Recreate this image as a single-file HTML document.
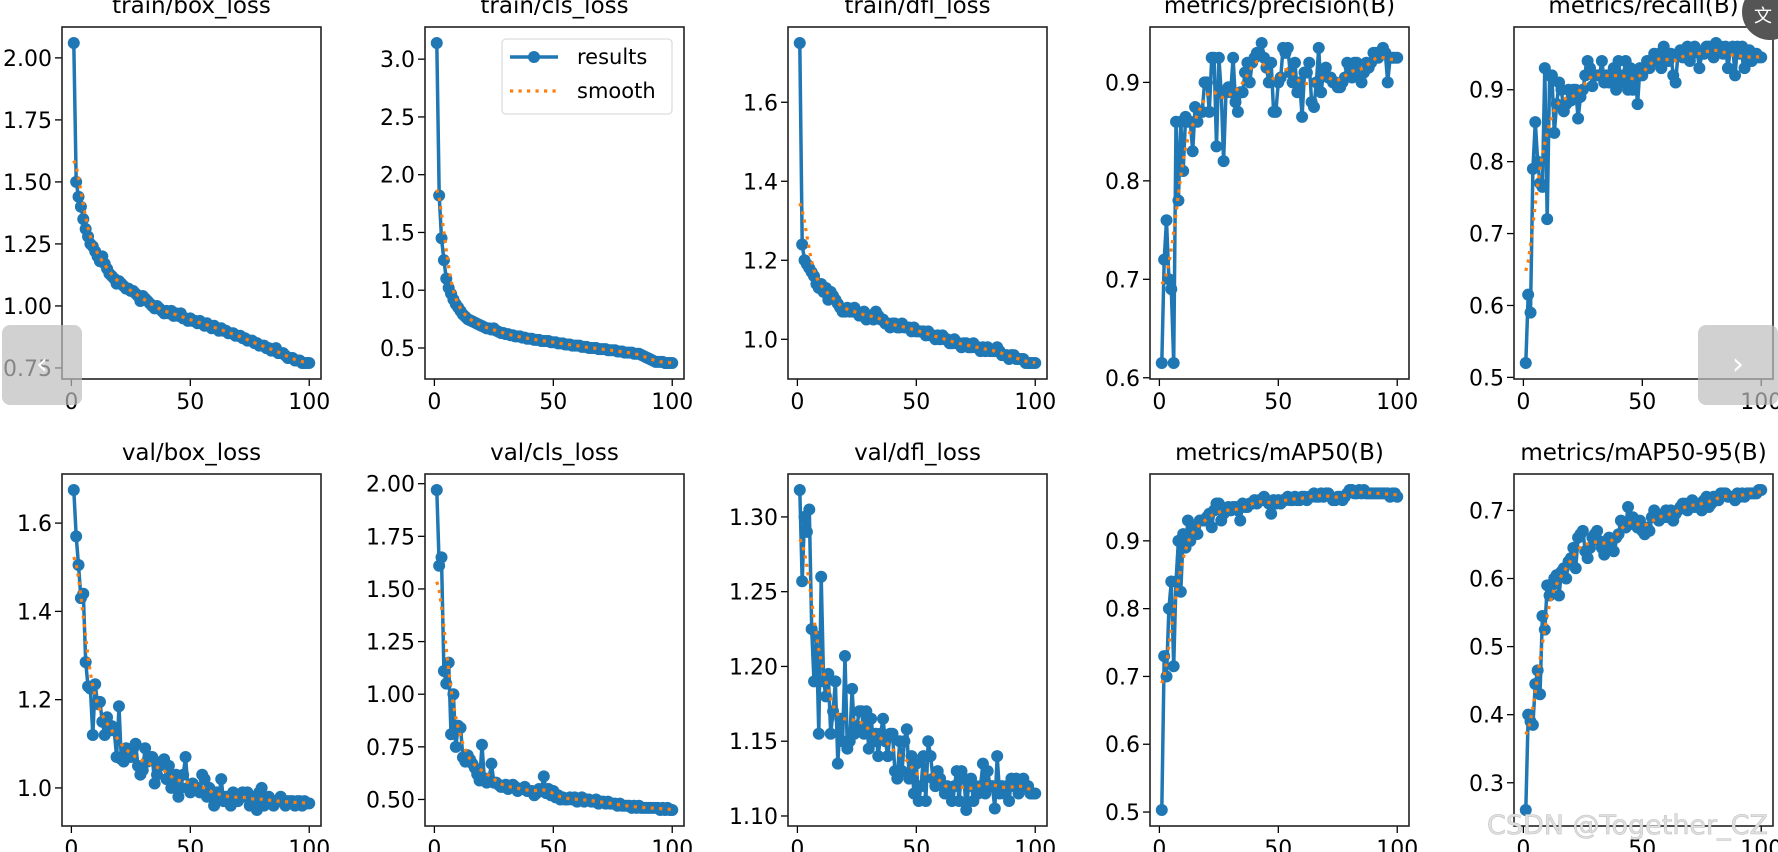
<!DOCTYPE html>
<html><head><meta charset="utf-8"><style>
html,body{margin:0;padding:0;background:#fff;overflow:hidden}
svg{display:block;font-family:"DejaVu Sans","Liberation Sans",sans-serif}
</style></head><body>
<svg id="fig" width="1778" height="852" viewBox="0 0 1778 852" xmlns="http://www.w3.org/2000/svg"></svg>
<script>
const epochs = Array.from({length:100},(_,i)=>i+1);
const xTicks = [0,50,100];
const titles = ["train/box_loss","train/cls_loss","train/dfl_loss","metrics/precision(B)","metrics/recall(B)","val/box_loss","val/cls_loss","val/dfl_loss","metrics/mAP50(B)","metrics/mAP50-95(B)"];
const trainBox = [2.06,1.50,1.44,1.40,1.35,1.31,1.28,1.25,1.24,1.22,1.20,1.18,1.20,1.17,1.15,1.13,1.12,1.11,1.09,1.10,1.09,1.08,1.07,1.07,1.06,1.06,1.05,1.04,1.02,1.04,1.03,1.02,1.01,1.00,0.99,1.00,0.99,0.98,0.97,0.98,0.97,0.98,0.96,0.97,0.96,0.97,0.95,0.95,0.94,0.95,0.94,0.94,0.93,0.94,0.93,0.92,0.93,0.92,0.91,0.92,0.91,0.90,0.91,0.90,0.90,0.89,0.89,0.89,0.88,0.88,0.88,0.87,0.87,0.86,0.86,0.86,0.85,0.85,0.84,0.84,0.84,0.83,0.83,0.82,0.82,0.83,0.81,0.81,0.81,0.80,0.79,0.79,0.79,0.78,0.78,0.78,0.77,0.77,0.77,0.77];
const trainCls = [3.14,1.82,1.45,1.26,1.10,1.02,0.97,0.92,0.88,0.85,0.82,0.79,0.77,0.75,0.74,0.73,0.72,0.71,0.70,0.69,0.68,0.67,0.67,0.66,0.67,0.65,0.64,0.63,0.63,0.62,0.62,0.61,0.61,0.60,0.60,0.60,0.59,0.59,0.58,0.58,0.58,0.57,0.57,0.57,0.56,0.56,0.56,0.56,0.55,0.55,0.55,0.54,0.54,0.54,0.53,0.53,0.53,0.52,0.52,0.52,0.52,0.51,0.51,0.51,0.50,0.50,0.50,0.50,0.49,0.49,0.49,0.49,0.48,0.48,0.48,0.48,0.47,0.47,0.47,0.46,0.46,0.46,0.46,0.45,0.45,0.45,0.44,0.43,0.42,0.41,0.40,0.39,0.38,0.38,0.38,0.38,0.37,0.37,0.37,0.37];
const trainDfl = [1.75,1.24,1.20,1.19,1.18,1.17,1.16,1.14,1.13,1.14,1.12,1.13,1.10,1.12,1.11,1.10,1.09,1.08,1.07,1.07,1.08,1.07,1.07,1.08,1.07,1.06,1.06,1.07,1.05,1.06,1.06,1.05,1.07,1.06,1.05,1.05,1.04,1.04,1.03,1.04,1.04,1.03,1.03,1.04,1.03,1.03,1.03,1.02,1.03,1.02,1.02,1.02,1.02,1.01,1.02,1.01,1.01,1.00,1.01,1.00,1.01,1.00,1.00,0.99,0.99,1.00,0.99,0.99,0.98,0.99,0.99,0.98,0.98,0.99,0.98,0.98,0.97,0.98,0.97,0.98,0.97,0.97,0.97,0.98,0.97,0.96,0.96,0.96,0.95,0.96,0.96,0.95,0.95,0.95,0.95,0.94,0.94,0.94,0.94,0.94];
const precision = [0.615,0.72,0.76,0.70,0.69,0.615,0.86,0.78,0.86,0.81,0.865,0.86,0.86,0.83,0.875,0.86,0.87,0.87,0.90,0.90,0.87,0.925,0.925,0.835,0.925,0.89,0.82,0.89,0.895,0.89,0.925,0.88,0.87,0.89,0.89,0.91,0.92,0.90,0.92,0.925,0.93,0.93,0.94,0.925,0.915,0.90,0.92,0.87,0.87,0.90,0.905,0.935,0.93,0.935,0.91,0.90,0.92,0.89,0.90,0.865,0.91,0.91,0.92,0.88,0.875,0.90,0.935,0.89,0.91,0.915,0.905,0.905,0.90,0.90,0.895,0.895,0.90,0.905,0.92,0.915,0.905,0.92,0.92,0.91,0.90,0.91,0.92,0.915,0.92,0.93,0.93,0.925,0.93,0.935,0.93,0.90,0.925,0.925,0.925,0.925];
const recall = [0.52,0.615,0.59,0.79,0.855,0.80,0.77,0.765,0.93,0.72,0.92,0.92,0.84,0.88,0.91,0.90,0.87,0.88,0.90,0.885,0.90,0.90,0.86,0.89,0.90,0.92,0.94,0.93,0.905,0.92,0.92,0.92,0.94,0.91,0.92,0.91,0.92,0.93,0.90,0.94,0.91,0.92,0.94,0.90,0.93,0.90,0.92,0.88,0.93,0.92,0.93,0.94,0.93,0.94,0.95,0.94,0.95,0.93,0.96,0.95,0.94,0.95,0.92,0.91,0.95,0.955,0.945,0.955,0.96,0.94,0.95,0.96,0.955,0.93,0.95,0.95,0.96,0.96,0.955,0.945,0.965,0.955,0.96,0.95,0.96,0.93,0.955,0.96,0.92,0.96,0.95,0.96,0.93,0.94,0.955,0.94,0.945,0.95,0.945,0.945];
const valBox = [1.675,1.57,1.505,1.43,1.44,1.285,1.23,1.225,1.12,1.235,1.19,1.195,1.15,1.12,1.16,1.13,1.14,1.13,1.07,1.185,1.065,1.06,1.09,1.08,1.07,1.09,1.10,1.05,1.03,1.04,1.09,1.06,1.07,1.07,1.01,1.03,1.05,1.06,1.065,1.02,1.05,1.00,1.02,1.03,0.98,1.00,1.03,1.07,1.00,0.99,1.01,1.00,1.00,0.99,1.03,1.02,0.98,1.00,0.99,0.96,0.99,0.98,1.02,0.97,0.98,0.98,0.96,0.99,0.98,0.97,0.98,0.99,0.98,0.99,0.96,0.98,0.97,0.95,0.99,1.00,0.96,0.97,0.98,0.97,0.96,0.97,0.97,0.98,0.97,0.96,0.97,0.97,0.97,0.96,0.97,0.97,0.96,0.97,0.965,0.965];
const valCls = [1.97,1.61,1.65,1.11,1.05,1.15,0.81,1.00,0.75,0.85,0.84,0.70,0.68,0.71,0.69,0.67,0.65,0.62,0.59,0.76,0.60,0.58,0.60,0.67,0.58,0.58,0.57,0.56,0.56,0.57,0.55,0.56,0.57,0.56,0.54,0.55,0.55,0.56,0.54,0.54,0.54,0.52,0.53,0.55,0.54,0.61,0.53,0.55,0.52,0.54,0.51,0.52,0.50,0.51,0.50,0.50,0.51,0.50,0.51,0.49,0.50,0.51,0.49,0.50,0.50,0.49,0.49,0.50,0.48,0.49,0.49,0.48,0.49,0.48,0.48,0.48,0.47,0.48,0.47,0.47,0.47,0.47,0.46,0.47,0.46,0.47,0.46,0.46,0.46,0.46,0.46,0.46,0.46,0.46,0.45,0.46,0.45,0.46,0.45,0.45];
const valDfl = [1.318,1.257,1.30,1.29,1.305,1.225,1.19,1.22,1.155,1.26,1.19,1.18,1.195,1.155,1.17,1.19,1.135,1.165,1.15,1.207,1.145,1.15,1.185,1.155,1.16,1.17,1.17,1.155,1.17,1.145,1.165,1.15,1.155,1.14,1.155,1.165,1.15,1.14,1.155,1.155,1.13,1.125,1.15,1.13,1.15,1.158,1.125,1.14,1.115,1.135,1.11,1.12,1.14,1.11,1.15,1.14,1.125,1.12,1.13,1.125,1.12,1.115,1.12,1.115,1.11,1.12,1.13,1.11,1.13,1.125,1.104,1.12,1.125,1.11,1.12,1.115,1.12,1.135,1.115,1.13,1.12,1.12,1.105,1.14,1.115,1.12,1.115,1.12,1.11,1.125,1.12,1.125,1.115,1.12,1.125,1.12,1.12,1.115,1.115,1.115];
const map50 = [0.503,0.73,0.70,0.80,0.84,0.715,0.84,0.90,0.825,0.91,0.89,0.93,0.90,0.92,0.92,0.91,0.93,0.93,0.93,0.935,0.94,0.92,0.945,0.955,0.955,0.93,0.94,0.945,0.95,0.945,0.95,0.95,0.945,0.93,0.955,0.95,0.95,0.955,0.955,0.96,0.955,0.96,0.96,0.965,0.96,0.955,0.94,0.96,0.955,0.96,0.955,0.96,0.96,0.965,0.96,0.96,0.965,0.96,0.96,0.965,0.965,0.96,0.965,0.965,0.97,0.965,0.965,0.97,0.965,0.97,0.97,0.965,0.96,0.96,0.965,0.965,0.96,0.965,0.97,0.975,0.975,0.97,0.97,0.975,0.97,0.975,0.97,0.97,0.97,0.97,0.97,0.97,0.97,0.97,0.97,0.97,0.965,0.97,0.97,0.965];
const map5095 = [0.26,0.40,0.39,0.385,0.445,0.465,0.43,0.545,0.525,0.59,0.575,0.59,0.60,0.605,0.575,0.61,0.615,0.60,0.625,0.63,0.645,0.615,0.66,0.665,0.67,0.64,0.63,0.645,0.66,0.665,0.67,0.655,0.645,0.635,0.65,0.66,0.65,0.64,0.66,0.665,0.685,0.68,0.675,0.705,0.68,0.69,0.68,0.675,0.685,0.67,0.665,0.675,0.67,0.69,0.70,0.695,0.685,0.69,0.69,0.70,0.69,0.70,0.685,0.695,0.70,0.705,0.71,0.71,0.70,0.705,0.715,0.705,0.71,0.71,0.70,0.715,0.72,0.705,0.71,0.72,0.715,0.715,0.725,0.725,0.725,0.72,0.72,0.72,0.715,0.725,0.72,0.725,0.72,0.725,0.725,0.725,0.725,0.725,0.73,0.73];
const yTicks = [[0.75,1.00,1.25,1.50,1.75,2.00],[0.5,1.0,1.5,2.0,2.5,3.0],[1.0,1.2,1.4,1.6],[0.6,0.7,0.8,0.9],[0.5,0.6,0.7,0.8,0.9],[1.0,1.2,1.4,1.6],[0.50,0.75,1.00,1.25,1.50,1.75,2.00],[1.10,1.15,1.20,1.25,1.30],[0.5,0.6,0.7,0.8,0.9],[0.3,0.4,0.5,0.6,0.7]];
const yDigits = [2,1,1,1,1,1,2,2,1,1];
const series = [trainBox,trainCls,trainDfl,precision,recall,valBox,valCls,valDfl,map50,map5095];

const NS="http://www.w3.org/2000/svg";
const svg=document.getElementById('fig');
function mk(tag,attrs,parent){const e=document.createElementNS(NS,tag);for(const k in attrs)e.setAttribute(k,attrs[k]);(parent||svg).appendChild(e);return e;}
function smooth(y,sigma){const r=Math.round(4*sigma);const w=[];let s=0;for(let k=-r;k<=r;k++){const v=Math.exp(-0.5*k*k/(sigma*sigma));w.push(v);s+=v;}
  const n=y.length;return y.map((_,i)=>{let a=0;for(let k=-r;k<=r;k++){let j=i+k;while(j<0||j>=n){if(j<0)j=-j-1;if(j>=n)j=2*n-j-1;}a+=w[k+r]*y[j];}return a/s;});}

const colL=[62,425,788,1150,1514], axW=259, rowT=[27,474], axH=352;
const FS=22;
for(let p=0;p<10;p++){
  const c=p%5, r=Math.floor(p/5);
  const L=colL[c], T=rowT[r], R=L+axW, B=T+axH;
  const data=series[p];
  const g=mk('g',{});
  
  
  const xmin=1-4.95, xmax=100+4.95;
  let lo=Math.min(...data), hi=Math.max(...data);
  const sm=smooth(data,3);
  lo=Math.min(lo,...sm); hi=Math.max(hi,...sm);
  const pad=(hi-lo)*0.05, ymin=lo-pad, ymax=hi+pad;
  const X=v=>L+(v-xmin)/(xmax-xmin)*axW;
  const Y=v=>B-(v-ymin)/(ymax-ymin)*axH;
  const clipId='clip'+p;
  const cp=mk('clipPath',{id:clipId},g); mk('rect',{x:L,y:T,width:axW,height:axH},cp);
  const t=mk('text',{x:L+axW/2,y:T-14,'text-anchor':'middle','font-size':23,fill:'#000'},g);
  t.textContent=titles[p];
  
  
  xTicks.forEach(v=>{mk('line',{x1:X(v),x2:X(v),y1:B,y2:B+7,stroke:'#000','stroke-width':1.3},g);
    const tx=mk('text',{x:X(v),y:B+30,'text-anchor':'middle','font-size':FS,fill:'#000'},g);tx.textContent=v;
    
    });
  yTicks[p].forEach(v=>{mk('line',{x1:L-7,x2:L,y1:Y(v),y2:Y(v),stroke:'#000','stroke-width':1.3},g);
    const ty=mk('text',{x:L-10,y:Y(v)+8,'text-anchor':'end','font-size':FS,fill:'#000'},g);ty.textContent=v.toFixed(yDigits[p]);
    
    });
  const pg=mk('g',{'clip-path':'url(#'+clipId+')'},g);
  const pts=data.map((v,i)=>X(epochs[i]).toFixed(1)+','+Y(v).toFixed(1)).join(' ');
  const line=mk('polyline',{points:pts,fill:'none',stroke:'#1f77b4','stroke-width':3.5,'stroke-linejoin':'round'},pg);
  
  
  data.forEach((v,i)=>{const m=mk('circle',{cx:X(epochs[i]),cy:Y(v),r:6,fill:'#1f77b4'},pg);
    
    });
  const spts=sm.map((v,i)=>X(epochs[i]).toFixed(1)+','+Y(v).toFixed(1)).join(' ');
  const sl=mk('polyline',{points:spts,fill:'none',stroke:'#ff7f0e','stroke-width':3.2,'stroke-dasharray':'3.2 5.3'},pg);
  
  
  const frame=mk('rect',{x:L,y:T,width:axW,height:axH,fill:'none',stroke:'#222','stroke-width':1.6},g);
  
  
  if(p===1){
    const lg=mk('g',{},g);
    
    
    mk('rect',{x:502,y:39,width:170,height:75,rx:4,fill:'#fff',stroke:'#ddd','stroke-width':1.3},lg);
    mk('line',{x1:510,x2:558,y1:57,y2:57,stroke:'#1f77b4','stroke-width':3.5},lg);
    mk('circle',{cx:534,cy:57,r:6,fill:'#1f77b4'},lg);
    mk('line',{x1:510,x2:558,y1:91,y2:91,stroke:'#ff7f0e','stroke-width':3.2,'stroke-dasharray':'3.2 5.3'},lg);
    const a=mk('text',{x:577,y:64,'font-size':21,fill:'#000'},lg);a.textContent='results';
    
    
    const b=mk('text',{x:577,y:98,'font-size':21,fill:'#000'},lg);b.textContent='smooth';
    
    
  }
}
const lb=mk('rect',{x:2,y:325,width:80,height:80,rx:8,fill:'#bdbdbd','fill-opacity':0.7});


const lt=mk('text',{x:42,y:374,'text-anchor':'middle','font-size':30,fill:'#fff'});lt.textContent='‹';


const rb=mk('rect',{x:1698,y:325,width:80,height:80,rx:8,fill:'#bdbdbd','fill-opacity':0.7});


const rt=mk('text',{x:1738,y:374,'text-anchor':'middle','font-size':30,fill:'#fff'});rt.textContent='›';


const tb=mk('circle',{cx:1770,cy:12,r:28,fill:'#555'});


const tt=mk('text',{x:1763,y:22,'text-anchor':'middle','font-size':18,fill:'#fff','font-family':'"Noto Sans CJK SC",sans-serif'});tt.textContent='文';


const wm=mk('text',{x:1768,y:834,'text-anchor':'end','font-size':27,fill:'#e0e0e0',stroke:'#c4c4c4','stroke-width':0.6});wm.textContent='CSDN @Together_CZ';


</script>
</body></html>
